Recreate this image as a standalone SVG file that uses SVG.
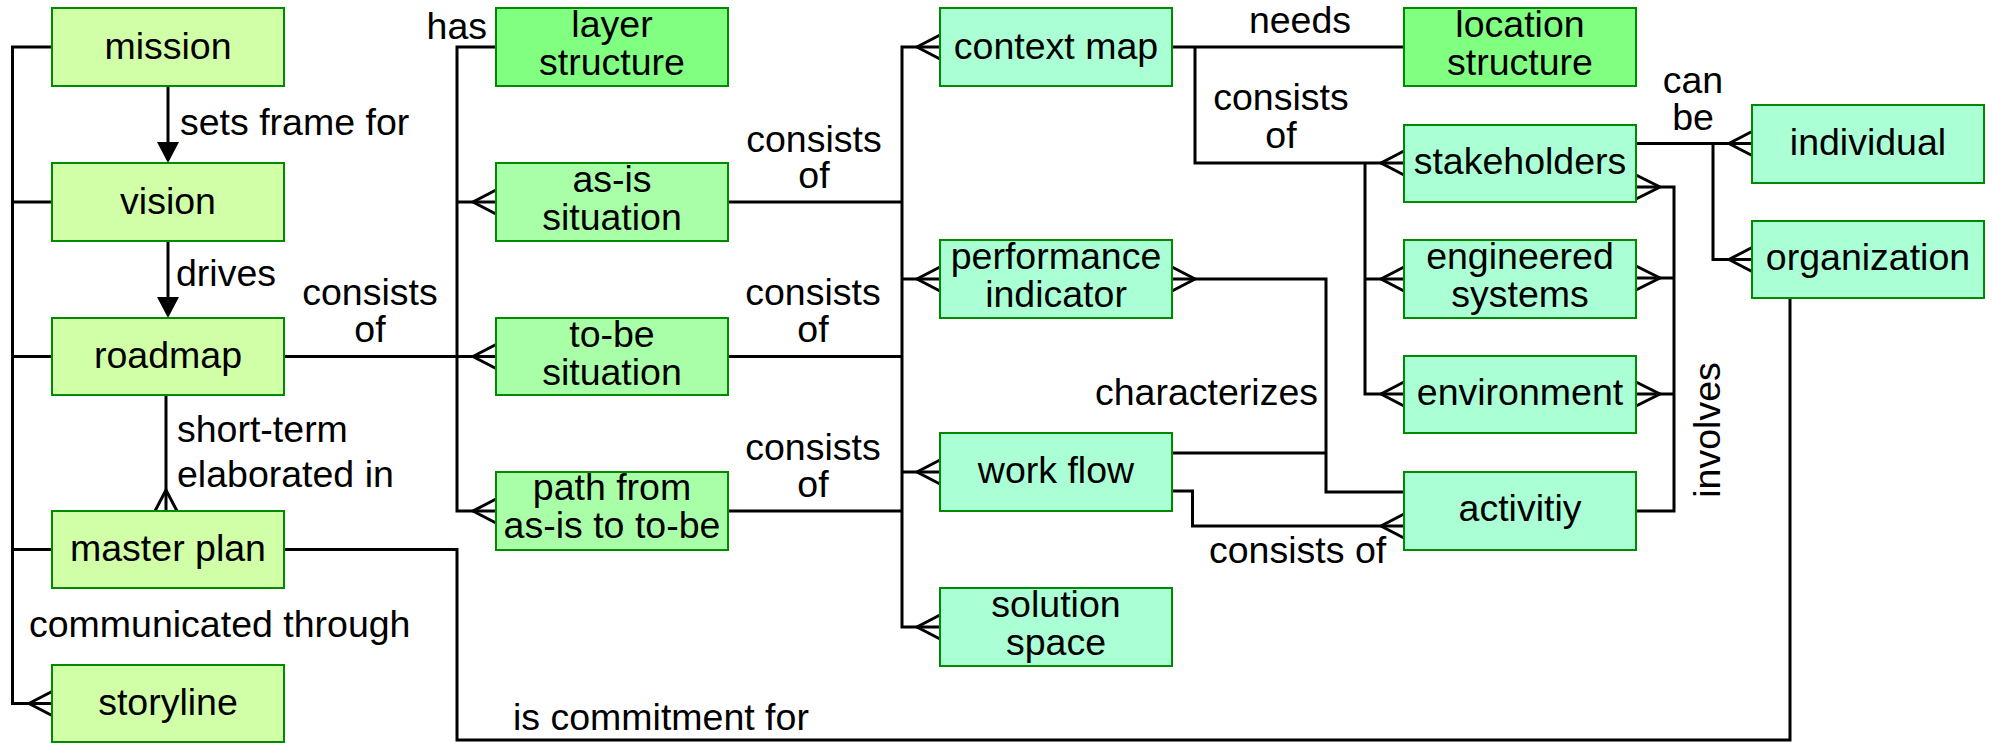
<svg xmlns="http://www.w3.org/2000/svg" width="1995" height="743" viewBox="0 0 1995 743">
<style>
.n1, .n2, .n3, .n4 { stroke: #008a00; stroke-width: 2; }
.n1 { fill: #d0ffa8; }
.n2 { fill: #a8ffa8; }
.n3 { fill: #80ff80; }
.n4 { fill: #aaffd4; }
text { font-family: "Liberation Sans", Arial, sans-serif; font-size: 37.5px; fill: #000; }
.c { text-anchor: middle; }
.e { text-anchor: end; }
#connectors path { fill: none; stroke: #000; stroke-width: 3; stroke-linejoin: miter; }
#connectors polygon { fill: #000; stroke: none; }
</style>
<rect x="0" y="0" width="1995" height="743" fill="#fff"/>

<g id="connectors">
  <!-- column 1 spine: communicated through -->
  <path d="M52,47 H12.5 V703.5 H52 M12.5,202 H52 M12.5,356.5 H52 M12.5,549.5 H52"/>
  <path d="M52,691.5 L29,703.5 L52,715.5"/>
  <!-- mission -> vision -->
  <path d="M168,86 V145"/>
  <polygon points="157,142 179,142 168,163"/>
  <!-- vision -> roadmap -->
  <path d="M168,241 V300"/>
  <polygon points="157,297 179,297 168,318"/>
  <!-- roadmap -> master plan -->
  <path d="M166,395 V511"/>
  <path d="M155,511 L166,490 L177,511"/>
  <!-- roadmap -> column 2 -->
  <path d="M284,356.5 H496 M496,47 H457 V511 H496 M457,202 H496"/>
  <path d="M496,190 L473,202 L496,214 M496,344.5 L473,356.5 L496,368.5 M496,499 L473,511 L496,523"/>
  <!-- master plan -> organization -->
  <path d="M284,549.5 H457 V740 H1790 V298"/>
  <!-- column 2 -> column 3 -->
  <path d="M728,202 H902 M728,356.5 H902 M728,511 H902 M940,47 H902 V627 H940 M902,279 H940 M902,472 H940"/>
  <path d="M940,35 L917,47 L940,59 M940,267 L917,279 L940,291 M940,460 L917,472 L940,484 M940,615 L917,627 L940,639"/>
  <!-- context map needs location structure -->
  <path d="M1172,47 H1404"/>
  <!-- context map consists of -->
  <path d="M1195,47 V163 H1404 M1365,163 V394 H1404 M1365,279 H1404"/>
  <path d="M1404,151 L1381,163 L1404,175 M1404,267 L1381,279 L1404,291 M1404,382 L1381,394 L1404,406"/>
  <!-- characterizes -->
  <path d="M1172,279 H1326 V492 H1404 M1172,453 H1326"/>
  <path d="M1172,267 L1195,279 L1172,291"/>
  <!-- work flow consists of activity -->
  <path d="M1172,491 H1192.5 V526 H1404"/>
  <path d="M1404,514 L1381,526 L1404,538"/>
  <!-- stakeholders can be -->
  <path d="M1636,143.5 H1752 M1713,143.5 V259.5 H1752"/>
  <path d="M1752,131.5 L1729,143.5 L1752,155.5 M1752,247.5 L1729,259.5 L1752,271.5"/>
  <!-- involves -->
  <path d="M1636,187 H1674 V511 H1636 M1636,278 H1674 M1636,394 H1674"/>
  <path d="M1636,175 L1660,187 L1636,199 M1636,266 L1660,278 L1636,290 M1636,382 L1660,394 L1636,406"/>
</g>

<g id="labels">
  <text x="487" y="39" class="e">has</text>
  <text x="180" y="135">sets frame for</text>
  <text x="176" y="286">drives</text>
  <text x="370" y="305" class="c">consists</text>
  <text x="370" y="342" class="c">of</text>
  <text x="177" y="442">short-term</text>
  <text x="177" y="487">elaborated in</text>
  <text x="29" y="637">communicated through</text>
  <text x="513" y="730">is commitment for</text>
  <text x="814" y="152" class="c">consists</text>
  <text x="814" y="188" class="c">of</text>
  <text x="813" y="305" class="c">consists</text>
  <text x="813" y="342" class="c">of</text>
  <text x="813" y="460" class="c">consists</text>
  <text x="813" y="497" class="c">of</text>
  <text x="1300" y="33" class="c">needs</text>
  <text x="1281" y="110" class="c">consists</text>
  <text x="1281" y="148" class="c">of</text>
  <text x="1318" y="405" class="e">characterizes</text>
  <text x="1209" y="563">consists of</text>
  <text x="1693" y="93" class="c">can</text>
  <text x="1693" y="130" class="c">be</text>
  <text class="c" transform="translate(1720,430) rotate(-90)">involves</text>
</g>

<g id="mission"><rect class="n1" x="52" y="8" width="232" height="78"/><text x="168" y="59" class="c">mission</text></g>
<g id="vision"><rect class="n1" x="52" y="163" width="232" height="78"/><text x="168" y="214" class="c">vision</text></g>
<g id="roadmap"><rect class="n1" x="52" y="318" width="232" height="77"/><text x="168" y="368" class="c">roadmap</text></g>
<g id="master-plan"><rect class="n1" x="52" y="511" width="232" height="77"/><text x="168" y="561" class="c">master plan</text></g>
<g id="storyline"><rect class="n1" x="52" y="665" width="232" height="77"/><text x="168" y="715" class="c">storyline</text></g>

<g id="layer-structure"><rect class="n3" x="496" y="8" width="232" height="78"/><text x="612" y="37" class="c">layer</text><text x="612" y="75" class="c">structure</text></g>
<g id="as-is-situation"><rect class="n2" x="496" y="163" width="232" height="78"/><text x="612" y="192" class="c">as-is</text><text x="612" y="230" class="c">situation</text></g>
<g id="to-be-situation"><rect class="n2" x="496" y="318" width="232" height="77"/><text x="612" y="346.5" class="c">to-be</text><text x="612" y="384.5" class="c">situation</text></g>
<g id="path-from-as-is-to-to-be"><rect class="n2" x="496" y="472" width="232" height="78"/><text x="612" y="500" class="c">path from</text><text x="612" y="538" class="c">as-is to to-be</text></g>

<g id="context-map"><rect class="n4" x="940" y="8" width="232" height="78"/><text x="1056" y="59" class="c">context map</text></g>
<g id="performance-indicator"><rect class="n4" x="940" y="240" width="232" height="78"/><text x="1056" y="269" class="c">performance</text><text x="1056" y="307" class="c">indicator</text></g>
<g id="work-flow"><rect class="n4" x="940" y="433" width="232" height="78"/><text x="1056" y="483" class="c">work flow</text></g>
<g id="solution-space"><rect class="n4" x="940" y="588" width="232" height="78"/><text x="1056" y="617" class="c">solution</text><text x="1056" y="655" class="c">space</text></g>

<g id="location-structure"><rect class="n3" x="1404" y="8" width="232" height="78"/><text x="1520" y="37" class="c">location</text><text x="1520" y="75" class="c">structure</text></g>
<g id="stakeholders"><rect class="n4" x="1404" y="125" width="232" height="77"/><text x="1520" y="174" class="c">stakeholders</text></g>
<g id="engineered-systems"><rect class="n4" x="1404" y="240" width="232" height="78"/><text x="1520" y="269" class="c">engineered</text><text x="1520" y="307" class="c">systems</text></g>
<g id="environment"><rect class="n4" x="1404" y="356" width="232" height="77"/><text x="1520" y="405" class="c">environment</text></g>
<g id="activitiy"><rect class="n4" x="1404" y="472" width="232" height="78"/><text x="1520" y="521" class="c">activitiy</text></g>

<g id="individual"><rect class="n4" x="1752" y="105" width="232" height="78"/><text x="1868" y="155" class="c">individual</text></g>
<g id="organization"><rect class="n4" x="1752" y="221" width="232" height="77"/><text x="1868" y="270" class="c">organization</text></g>
</svg>
